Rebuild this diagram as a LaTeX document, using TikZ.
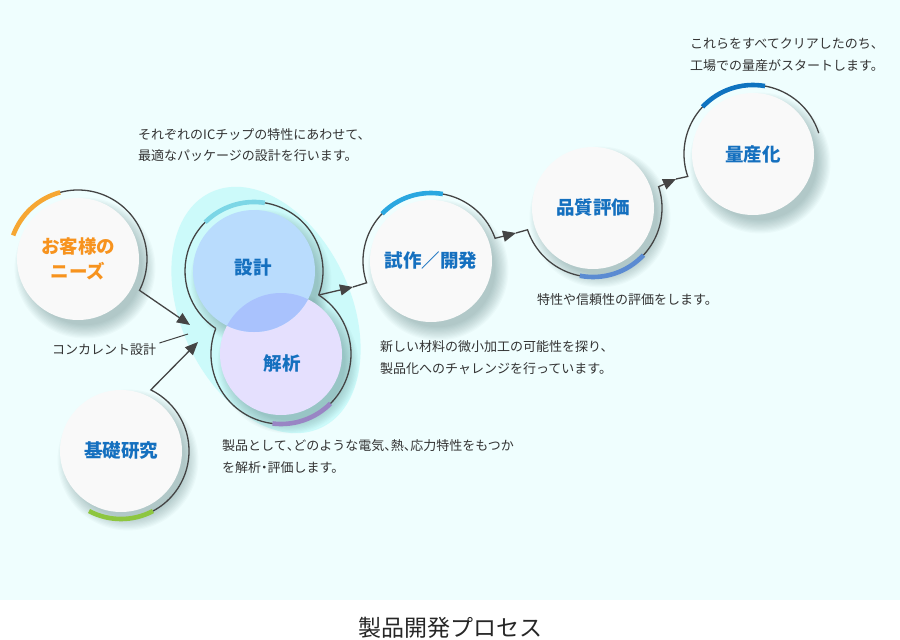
\documentclass[tikz,border=0pt]{standalone}
\usepackage{fontspec}
\newfontfamily\jp{Noto Sans CJK JP}
\newfontfamily\jph[CharacterWidth=AlternateHalf]{Noto Sans CJK JP}
\usetikzlibrary{arrows.meta,calc}
\definecolor{bgc}{HTML}{EFFEFE}
\definecolor{glow}{HTML}{CCFAFA}
\definecolor{cwhite}{HTML}{F9F9F9}
\definecolor{lblue}{HTML}{1570BF}
\definecolor{orng}{HTML}{F7931E}
\definecolor{orarc}{HTML}{F6A733}
\definecolor{lineg}{HTML}{444444}
\definecolor{txt}{HTML}{333333}
\definecolor{dblue}{HTML}{B9DCFD}
\definecolor{lav}{HTML}{E5E0FE}
\definecolor{ovl}{HTML}{A9C2FD}
\definecolor{cyanarc}{HTML}{7CD6E6}
\definecolor{purarc}{HTML}{9985C4}
\definecolor{trarc}{HTML}{2AA7E0}
\definecolor{qarc}{HTML}{5B8BD2}
\definecolor{marc}{HTML}{0F73C0}
\definecolor{garc}{HTML}{8DC63F}
\definecolor{shc}{HTML}{3C6464}
\pgfdeclarelayer{bglayer}
\pgfdeclarelayer{shlayer}
\pgfsetlayers{bglayer,shlayer,main}
\newcommand\hp[1]{{\jph #1}}
\begin{document}
\begin{tikzpicture}[x=1pt,y=1pt,
  outl/.style={draw=lineg,line width=1.3pt},
  tipst/.style={-{Triangle[length=13pt,width=11pt]}},
  accent/.style={line width=4.6pt},
  wcirc/.style={circle,minimum size=122pt,inner sep=0pt,fill=cwhite,font=\jp\bfseries\fontsize{18.5}{25}\selectfont,text=lblue,align=center},
  lbltext/.style={font=\jp\bfseries\fontsize{18.5}{25}\selectfont,text=lblue,inner sep=0pt},
  captxt/.style={font=\jp\fontsize{13}{21.5}\selectfont,text=txt,align=left,inner sep=0pt,anchor=west}]

\useasboundingbox (0,0) rectangle (900,-640);
\begin{pgfonlayer}{bglayer}
\fill[bgc] (0,0) rectangle (900,-600);
\fill[white] (0,-600) rectangle (900,-640);
\fill[glow,rotate around={-65:(266,-310)}] (266,-310) ellipse [x radius=130pt,y radius=85pt];
\end{pgfonlayer}

% circles
\node[wcirc,text=orng] (needs) at (78,-259) {お客様の\\ニーズ};
\node[wcirc] (basic) at (121,-451) {基礎研究};
\node[wcirc,fill=lav] (analysis) at (281,-354) {};
\node[wcirc,fill=dblue] (design) at (254,-271) {};
\begin{scope}
\clip (analysis.center) circle (61pt);
\fill[ovl] (design.center) circle (61pt);
\end{scope}
\node[lbltext] (designT) at (253,-268) {設計};
\node[lbltext] (analysisT) at (282,-363) {解析};
\node[wcirc] (trial) at (431,-261) {試作／開発};
\node[wcirc] (quality) at (593,-208) {品質評価};
\node[wcirc] (mass) at (753,-154) {量産化};

% shadows
\begin{pgfonlayer}{shlayer}
\foreach \n in {needs,basic,design,analysis,trial,quality,mass}{
  \foreach \k in {1,...,12}{
    \fill[shc,opacity=0.03] ($(\n.center)+(7pt,-9pt)$) circle ({56pt+\k*1.2pt});
  }
}
\end{pgfonlayer}

% coordinates
\coordinate (tipA) at (190,-325);
\coordinate (tipB) at (198,-342);
\coordinate (tipC) at (353,-287);
\coordinate (tipD) at (516,-233);
\coordinate (tipE) at (676,-179);
\coordinate (rw) at ($(design.center)+(-20.4:69pt)$);

% outlines and connectors
\draw[outl,tipst] ($(needs.center)+(105:69pt)$) arc[start angle=105,end angle=-27,radius=69pt] -- (tipA);
\draw[orarc,accent] ($(needs.center)+(160:69pt)$) arc[start angle=160,end angle=105,radius=69pt];

\draw[outl,tipst] ($(basic.center)+(-62:68pt)$) arc[start angle=-62,end angle=64,radius=68pt] -- (tipB);
\draw[garc,accent] ($(basic.center)+(-118:68pt)$) arc[start angle=-118,end angle=-62,radius=68pt];

\draw[outl] (rw) arc[start angle=-20.4,end angle=236.4,radius=69pt];
\draw[outl] ($(analysis.center)+(158.6:70pt)$) arc[start angle=158.6,end angle=417.5,radius=70pt];
\draw[cyanarc,accent] ($(design.center)+(81:69pt)$) arc[start angle=81,end angle=135,radius=69pt];
\draw[purarc,accent] ($(analysis.center)+(-97:70pt)$) arc[start angle=-97,end angle=-45,radius=70pt];

\draw[outl,tipst] (rw) -- (tipC);
\draw[outl,tipst] (tipC) -- ($(trial.center)+(198.7:68pt)$) arc[start angle=198.7,end angle=19.5,radius=68pt] -- (tipD);
\draw[trarc,accent] ($(trial.center)+(136:68pt)$) arc[start angle=136,end angle=80,radius=68pt];

\draw[outl,tipst] (tipD) -- ($(quality.center)+(198.4:69pt)$) arc[start angle=198.4,end angle=378,radius=69pt] -- (tipE);
\draw[qarc,accent] ($(quality.center)+(259:69pt)$) arc[start angle=259,end angle=317,radius=69pt];

\draw[outl] (tipE) -- ($(mass.center)+(199:69pt)$) arc[start angle=199,end angle=17.6,radius=69pt];
\draw[marc,accent] ($(mass.center)+(137:69pt)$) arc[start angle=137,end angle=80,radius=69pt];

% captions
\node[captxt] (cap1) at (138,-145) {それぞれのICチップの特性にあわせて、\\最適なパッケージの設計を行います。};
\node[captxt] (conc) at (52,-350) {コンカレント設計};
\coordinate (concEnd) at (188,-334);
\draw[draw=lineg,line width=1pt] ($(conc.east)+(3pt,7pt)$) -- (concEnd);
\node[captxt] (cap2) at (222,-456.5) {製品として\hp{、}どのような電気\hp{、}熱\hp{、}応力特性をもつか\\を解析\hp{・}評価します。};
\node[captxt] (cap3) at (380,-357.5) {新しい材料の微小加工の可能性を探り、\\製品化へのチャレンジを行っています。};
\node[captxt] (cap4) at (537,-300) {特性や信頼性の評価をします。};
\node[captxt] (cap5) at (690,-55) {これらをすべてクリアしたのち、\\工場での量産がスタートします。};
\node[font=\jp\fontsize{23}{28}\selectfont,text=black!85,inner sep=0pt] (title) at (450,-628) {製品開発プロセス};
\end{tikzpicture}
\end{document}
